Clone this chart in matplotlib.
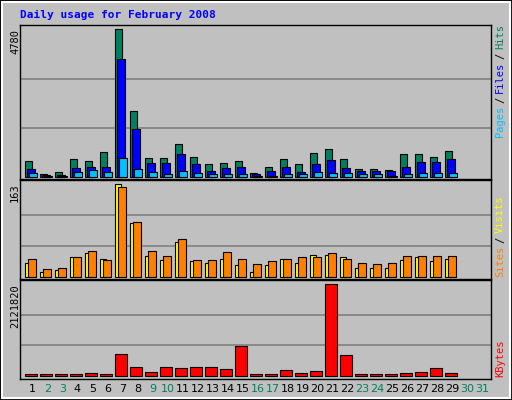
import matplotlib
matplotlib.use("Agg")
import matplotlib.pyplot as plt
from matplotlib.patches import Rectangle
import numpy as np

days = list(range(1, 30))
all_days = list(range(1, 32))
weekend = [2, 3, 9, 10, 16, 17, 23, 24, 30, 31]
hits = [499, 87, 141, 564, 499, 791, 4780, 2125, 596, 596, 1051, 629, 401, 434, 499, 108, 304, 564, 401, 759, 889, 564, 238, 238, 206, 726, 726, 629, 824]
files = [238, 65, 54, 271, 304, 304, 3816, 1539, 434, 434, 726, 401, 173, 271, 304, 87, 173, 304, 141, 401, 531, 271, 173, 173, 173, 304, 466, 466, 564]
pages = [108, 22, 22, 141, 206, 141, 596, 238, 141, 76, 173, 108, 76, 76, 76, 33, 33, 76, 76, 141, 108, 108, 76, 76, 33, 76, 108, 108, 108]
sites = [24, 8, 11, 34, 41, 31, 163, 94, 36, 29, 62, 27, 25, 31, 20, 8, 20, 31, 24, 38, 38, 34, 15, 15, 15, 29, 34, 27, 31]
visits = [32, 13, 16, 34, 46, 29, 158, 96, 46, 36, 66, 29, 29, 43, 31, 22, 27, 31, 34, 34, 41, 32, 25, 22, 25, 36, 36, 36, 36]
kbytes = [31000, 31000, 31000, 31000, 54000, 31000, 496000, 194000, 77000, 194000, 170000, 194000, 194000, 147000, 681000, 31000, 31000, 124000, 54000, 100000, 2121820, 472000, 31000, 31000, 31000, 54000, 77000, 170000, 54000]

BG = "#c0c0c0"
W, H = 512, 400
fig = plt.figure(figsize=(5.12, 4.0), dpi=100, facecolor=BG)
mono = "DejaVu Sans Mono"

def px_ax(top, bottom):
    return fig.add_axes([20 / W, 1 - bottom / H, 471 / W, (bottom - top) / H])

xl = (0.667, 0.667 + 471 / 15)
d = np.array(days)

def style(ax, ylim, mx):
    ax.set_facecolor(BG)
    ax.set_xlim(*xl)
    ax.set_ylim(*ylim)
    ax.set_xticks([]); ax.set_yticks([])
    for y in (mx / 3, 2 * mx / 3):
        ax.axhline(y, color="#808080", lw=1.2, zorder=0)
    for s in ax.spines.values():
        s.set_color("black"); s.set_linewidth(1)

ax1 = px_ax(25, 179)
style(ax1, (-75, 4926), 4780)
ax1.bar(d, hits, width=0.47, align="edge", color="#008060", edgecolor="black", lw=0.8)
ax1.bar(d + 0.13, files, width=0.53, align="edge", color="#0000ff", edgecolor="black", lw=0.8)
ax1.bar(d + 0.27, pages, width=0.53, align="edge", color="#00c0ff", edgecolor="black", lw=0.8)

ax2 = px_ax(180, 279)
style(ax2, (-4, 170.6), 163)
ax2.bar(d, sites, width=0.4, align="edge", color="#ffff00", edgecolor="black", lw=0.8)
ax2.bar(d + 0.2, visits, width=0.53, align="edge", color="#ff8000", edgecolor="black", lw=0.8)

ax3 = px_ax(280, 379)
style(ax3, (-76600, 2221645), 2121820)
ax3.bar(d, kbytes, width=0.8, align="edge", color="#ff0000", edgecolor="black", lw=0.8)

for dd in all_days:
    ax3.text(dd + 0.5, -0.05, str(dd), transform=ax3.get_xaxis_transform(), ha="center", va="top",
             fontsize=8, family="DejaVu Sans", color="#008060" if dd in weekend else "black")

def ft(x, y, s, color, **kw):
    fig.text(x / W, 1 - y / H, s, color=color, family=mono, **kw)

ft(20, 15, "Daily usage for February 2008", "#0000ff", fontsize=8, fontweight="bold", va="center")
ft(15, 29, "4780", "black", fontsize=7.5, rotation=90, va="top", ha="center")
ft(15, 183, "163", "black", fontsize=7.5, rotation=90, va="top", ha="center")
ft(15, 284, "2121820", "black", fontsize=7.5, rotation=90, va="top", ha="center")

def side(parts, ybottom):
    y = ybottom
    for s, c in parts:
        ft(500, y, s, c, fontsize=7.5, rotation=90, va="bottom", ha="center")
        y -= len(s) * 6 + 4

side([("Pages", "#00c0ff"), ("/", "black"), ("Files", "#0000ff"), ("/", "black"), ("Hits", "#008060")], 137)
side([("Sites", "#ff8000"), ("/", "black"), ("Visits", "#ffff00")], 277)
side([("KBytes", "#ff0000")], 377)

fig.patches.append(Rectangle((0, 0), 1, 1, transform=fig.transFigure, fill=False, edgecolor="black", lw=2))
fig.patches.append(Rectangle((2 / W, 2 / H), 1 - 4 / W, 1 - 4 / H, transform=fig.transFigure, fill=False, edgecolor="white", lw=1.5))
fig.savefig("out.png", dpi=100, facecolor=BG)
